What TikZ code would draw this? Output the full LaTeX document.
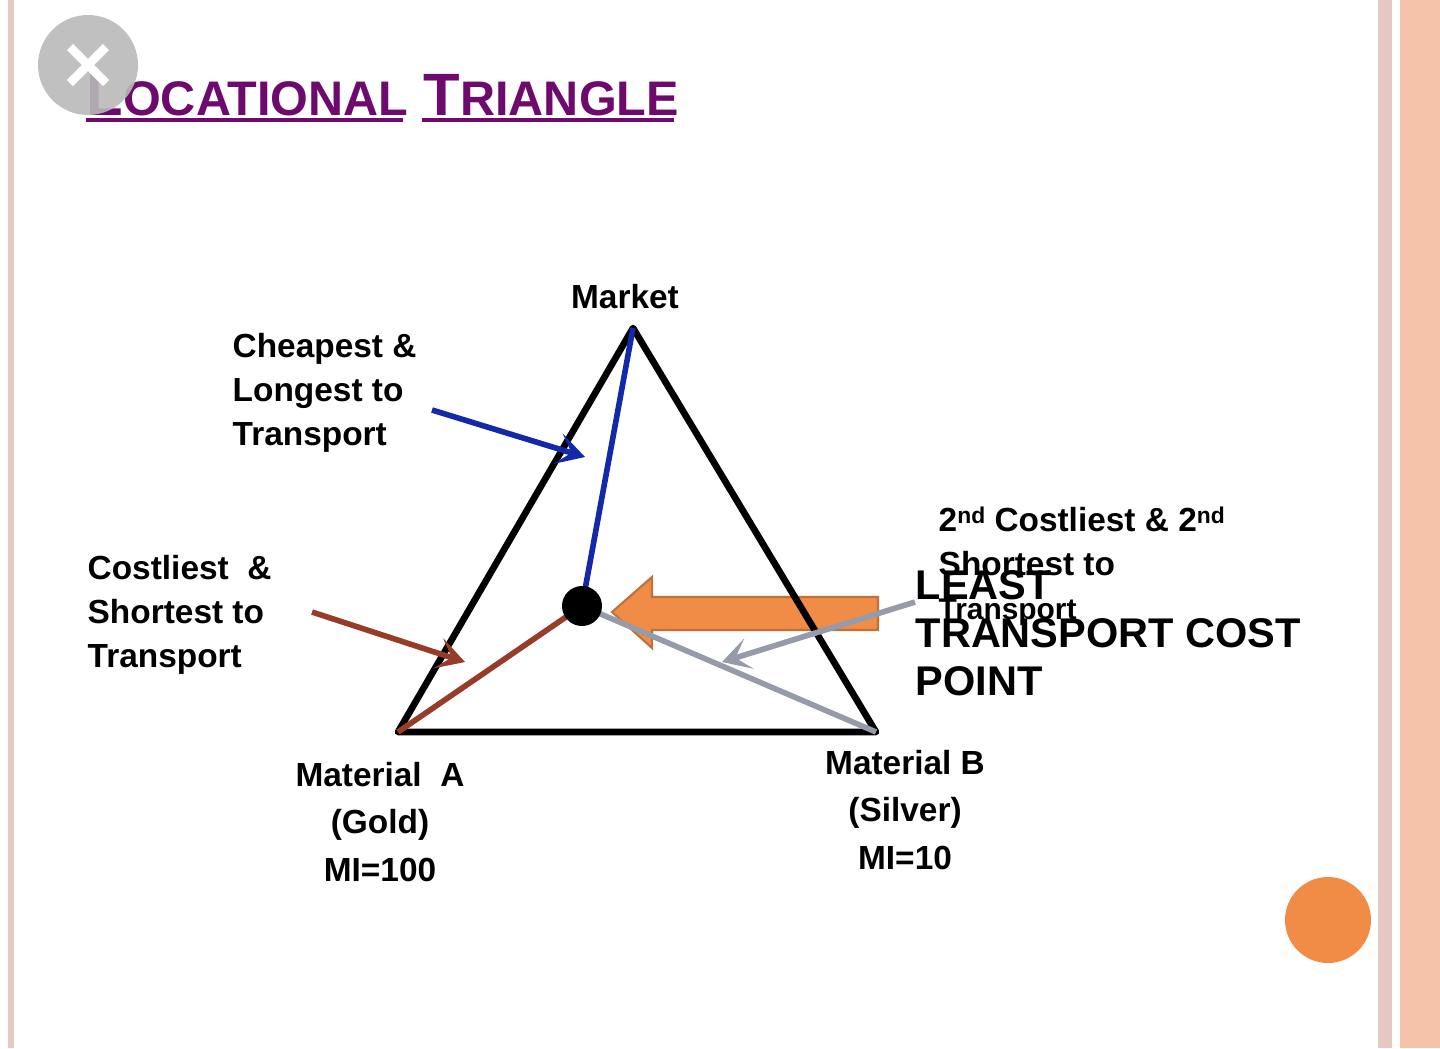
\documentclass[tikz,border=0pt]{standalone}
\usepackage{fontspec}
\setmainfont{Liberation Sans}
\usetikzlibrary{arrows.meta}
\definecolor{titlepurple}{RGB}{110,10,110}
\definecolor{leadblue}{RGB}{20,40,170}
\definecolor{leadbrown}{RGB}{150,60,40}
\definecolor{leadgray}{RGB}{150,155,170}
\definecolor{bigorange}{RGB}{240,140,70}
\definecolor{stripepink}{RGB}{230,200,195}
\definecolor{stripesalmon}{RGB}{245,195,170}
\tikzset{
  lbl/.style={font=\bfseries\fontsize{9.5}{12.5}\selectfont, align=left, inner sep=0pt},
  corner/.style={font=\bfseries\fontsize{9.5}{13.5}\selectfont, align=center, inner sep=0pt},
  lead/.style={line width=1.6pt, -{Stealth[length=8pt,width=9pt,inset=4pt]}}
}
\newcommand{\ordsup}[1]{\raisebox{0.45ex}{\fontsize{6.5}{7}\selectfont #1}}
\begin{document}
\begin{tikzpicture}[x=0.01cm,y=-0.01cm]
\useasboundingbox (0,0) rectangle (1440,1048);
% Rahmen
\fill[stripepink] (8,0) rectangle (14,1048);
\fill[stripepink] (1378,0) rectangle (1392,1048);
\fill[stripesalmon] (1400,0) rectangle (1440,1048);
\fill[bigorange] (1328,920) circle (43);

% Titel
\node[anchor=base west, inner sep=0pt, text=titlepurple, font=\bfseries] (title) at (86,115)
  {{\fontsize{17}{17}\selectfont L}{\fontsize{13.8}{14}\selectfont OCATIONAL}\hspace{0.45em}%
   {\fontsize{17}{17}\selectfont T}{\fontsize{13.8}{14}\selectfont RIANGLE}};
\fill[titlepurple] (86,118) rectangle (403,122);
\fill[titlepurple] (422,118) rectangle (674,122);
\fill[gray!55, opacity=0.9] (88,65) circle (50);
\draw[white, line width=2.5pt] (70,47) -- (106,83) (106,47) -- (70,83);

% grosser Pfeil
\draw[bigorange!80!black, fill=bigorange, line width=0.6pt]
  (878,597) -- (652,597) -- (652,577) -- (612,612) -- (652,648) -- (652,630) -- (878,630) -- cycle;

% Dreieck
\coordinate (market) at (633,328);
\coordinate (matA) at (398,732);
\coordinate (matB) at (876,732);
\coordinate (ltc) at (582,606);
\draw[line width=1.9pt, line join=round] (market) -- (matA) -- (matB) -- cycle;
\draw[leadblue, line width=1.6pt] (market) -- (ltc);
\draw[leadbrown, line width=1.6pt] (matA) -- (ltc);
\draw[leadgray, line width=1.6pt] (matB) -- (ltc);
\fill (ltc) circle (20);

% Beschriftungen
\node[corner] (lmarket) at (625,297) {Market};
\node[corner] (lmatA) at (380,822) {Material\ \ A\\(Gold)\\MI=100};
\node[corner] (lmatB) at (905,810) {Material B\\(Silver)\\MI=10};
\node[lbl, anchor=west] (cheap) at (232,393) {Cheapest \&\\Longest to\\Transport};
\node[lbl, anchor=west] (costly) at (87,615) {Costliest\ \ \&\\Shortest to\\Transport};
\node[lbl, anchor=west] (second) at (938,566) {2\ordsup{nd} Costliest \& 2\ordsup{nd}\\Shortest to\\{\fontsize{8.5}{10}\selectfont Transport}};
\node[lbl, anchor=west, font=\bfseries\fontsize{11.8}{13.6}\selectfont] (least) at (915,633)
  {LEAST\\TRANSPORT COST\\POINT};

% Zeiger
\coordinate (pblue) at (585,457);
\coordinate (pbrown) at (465,662);
\coordinate (pgray) at (722,662);
\draw[lead, leadblue] (432,410) -- (pblue);
\draw[lead, leadbrown] (312,612) -- (pbrown);
\draw[lead, leadgray] (915,602) -- (pgray);
\end{tikzpicture}
\end{document}
